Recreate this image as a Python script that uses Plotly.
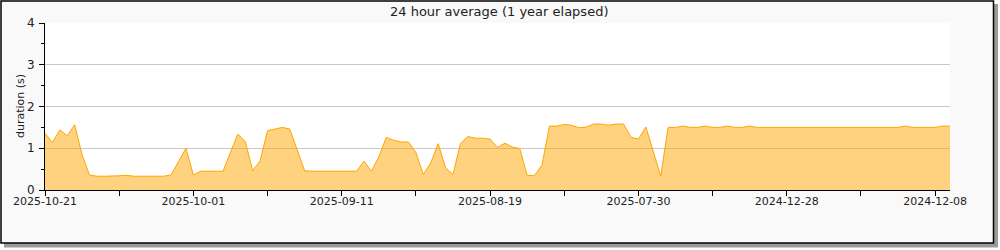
import plotly.graph_objects as go

# ---- data ----
values = [
    1.36, 1.14, 1.44, 1.30, 1.56, 0.84, 0.36, 0.33, 0.33, 0.33,
    0.34, 0.35, 0.33, 0.33, 0.33, 0.33, 0.33, 0.36, 0.68, 1.00,
    0.36, 0.45, 0.45, 0.45, 0.45, 0.90, 1.34, 1.16, 0.46, 0.70,
    1.42, 1.46, 1.50, 1.46, 0.96, 0.46, 0.45, 0.45, 0.45, 0.45,
    0.45, 0.45, 0.45, 0.69, 0.45, 0.79, 1.26, 1.19, 1.15, 1.15,
    0.90, 0.37, 0.65, 1.11, 0.53, 0.37, 1.11, 1.28, 1.24, 1.24,
    1.22, 1.02, 1.12, 1.03, 0.99, 0.35, 0.35, 0.60, 1.53, 1.53,
    1.57, 1.55, 1.49, 1.51, 1.58, 1.58, 1.55, 1.58, 1.58, 1.26,
    1.22, 1.51, 0.90, 0.33, 1.50, 1.50, 1.53, 1.50, 1.50, 1.53,
    1.50, 1.50, 1.53, 1.50, 1.50, 1.53, 1.50, 1.50, 1.50, 1.50,
    1.50, 1.50, 1.50, 1.50, 1.50, 1.50, 1.50, 1.50, 1.50, 1.50,
    1.50, 1.50, 1.50, 1.50, 1.50, 1.50, 1.53, 1.50, 1.50, 1.50,
    1.50, 1.53, 1.53,
]
x_index = list(range(len(values)))

tick_positions = [0, 10, 20, 30, 40, 50, 60, 70, 80, 90, 100, 110, 120]
tick_labels = ["2025-10-21", "", "2025-10-01", "", "2025-09-11", "", "2025-08-19",
               "", "2025-07-30", "", "2024-12-28", "", "2024-12-08"]

y_ticks = [0, 1, 2, 3, 4]
title_text = "24 hour average (1 year elapsed)"
y_title = "duration (s)"

# ---- layout geometry ----
W, H = 1000, 250
L, R, T, B = 45, 50, 23, 60
pw, ph = W - L - R, H - T - B


def px(xp):
    return (xp - L) / pw


def py(yp):
    return (H - B - yp) / ph


fig = go.Figure()
fig.add_trace(go.Scatter(
    x=x_index, y=values, mode="lines",
    line=dict(color="#ffa500", width=1),
    fill="tozeroy", fillcolor="rgba(255,165,0,0.5)",
    hoverinfo="skip", showlegend=False,
))

shapes = [
    # shadow
    dict(type="rect", xref="paper", yref="paper", x0=px(4), x1=px(998), y0=py(4), y1=py(247.5),
         fillcolor="#9a9a9a", line=dict(width=0), layer="below"),
    # frame
    dict(type="rect", xref="paper", yref="paper", x0=px(1), x1=px(993.5), y0=py(1), y1=py(243),
         fillcolor="#f9f9f9", line=dict(color="#000000", width=1.5), layer="below"),
    # plot area
    dict(type="rect", xref="paper", yref="paper", x0=0, x1=1, y0=0, y1=1,
         fillcolor="#ffffff", line=dict(width=0), layer="below"),
]

font_family = "DejaVu Sans, sans-serif"
fig.update_layout(
    width=W, height=H,
    margin=dict(l=L, r=R, t=T, b=B, pad=0),
    paper_bgcolor="#ffffff",
    plot_bgcolor="rgba(0,0,0,0)",
    shapes=shapes,
    font=dict(family=font_family, size=11, color="#222222"),
    annotations=[
        dict(text=title_text, xref="paper", yref="paper",
             x=px(499), y=py(11), xanchor="center", yanchor="middle",
             showarrow=False, font=dict(size=13, color="#222222")),
        dict(text=y_title, xref="paper", yref="paper", textangle=-90,
             x=px(20), y=py(106), xanchor="center", yanchor="middle",
             showarrow=False, font=dict(size=11, color="#222222")),
    ],
    xaxis=dict(
        range=[0, 122], showgrid=False, zeroline=False,
        showline=True, linecolor="#000000", linewidth=1,
        ticks="outside", ticklen=5, tickcolor="#000000", tickwidth=1,
        tickmode="array", tickvals=tick_positions, ticktext=tick_labels,
        tickfont=dict(size=11, color="#222222"),
        ticklabelstandoff=-4,
        fixedrange=True,
    ),
    yaxis=dict(
        range=[0, 4], showgrid=True, gridcolor="#c8c8c8", gridwidth=1,
        zeroline=False, showline=True, linecolor="#000000", linewidth=1,
        ticks="outside", ticklen=5, tickcolor="#000000", tickwidth=1,
        tickmode="array", tickvals=y_ticks,
        minor=dict(tickmode="array", tickvals=[0.5, 1.5, 2.5, 3.5], ticks="outside",
                   ticklen=3, tickcolor="#000000", showgrid=False),
        tickfont=dict(size=12, color="#222222"),
        ticklabelstandoff=2,
        fixedrange=True,
    ),
)

fig.write_html("out.html")
